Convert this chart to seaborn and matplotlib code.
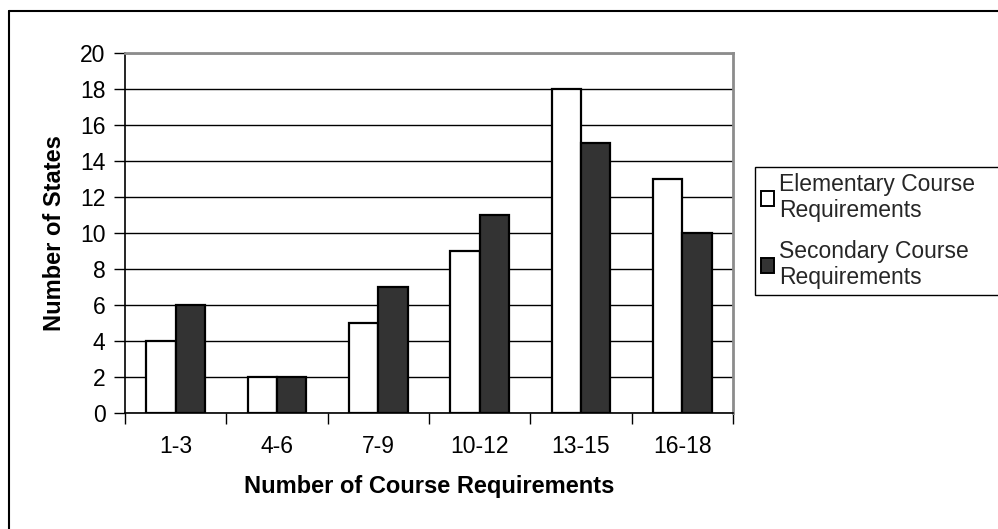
import matplotlib
matplotlib.use("Agg")
import matplotlib.pyplot as plt
from matplotlib.lines import Line2D
import seaborn as sns
import pandas as pd

categories = ["1-3", "4-6", "7-9", "10-12", "13-15", "16-18"]
elementary = [4, 2, 5, 9, 18, 13]
secondary = [6, 2, 7, 11, 15, 10]
series_names = ["Elementary Course\nRequirements", "Secondary Course\nRequirements"]
y_ticks = [0, 2, 4, 6, 8, 10, 12, 14, 16, 18, 20]

df = pd.DataFrame({
    "category": categories * 2,
    "value": elementary + secondary,
    "series": [series_names[0]] * len(categories) + [series_names[1]] * len(categories),
})

sns.set_theme(style="white")
plt.rcParams["font.family"] = ["Liberation Sans", "DejaVu Sans"]

fig = plt.figure(figsize=(9.98, 5.29), dpi=100)
ax = fig.add_axes([125 / 998, 1 - 413 / 529, 608 / 998, 360 / 529])

sns.barplot(
    data=df, x="category", y="value", hue="series", order=categories,
    hue_order=series_names, palette=["#ffffff", "#333333"], width=0.58,
    edgecolor="black", linewidth=1.6, saturation=1, errorbar=None, ax=ax,
)

ax.set_xlim(-0.5, len(categories) - 0.5)
ax.set_ylim(0, 20)
ax.set_yticks(y_ticks)
ax.yaxis.grid(True, color="black", linewidth=1.0)
ax.set_axisbelow(True)

# category labels centered, tick marks at category boundaries
ax.set_xticks(range(len(categories)))
ax.set_xticklabels(categories)
ax.set_xticks([i - 0.5 for i in range(len(categories) + 1)], minor=True)
ax.tick_params(axis="x", which="major", length=0, pad=16, labelsize=16.5, colors="black")
ax.tick_params(axis="x", which="minor", length=8, width=1.0, direction="out",
               color="black", bottom=True)
ax.tick_params(axis="y", which="major", length=8, width=1.0, direction="out",
               left=True, pad=6, labelsize=16.5, colors="black")

for side in ["left", "bottom"]:
    ax.spines[side].set_color("black")
    ax.spines[side].set_linewidth(1.2)
for side in ["top", "right"]:
    ax.spines[side].set_visible(True)
    ax.spines[side].set_color("#8c8c8c")
    ax.spines[side].set_linewidth(2.0)

ax.set_xlabel("Number of Course Requirements", fontsize=17, fontweight="bold",
              labelpad=12, color="black")
ax.set_ylabel("Number of States", fontsize=17, fontweight="bold",
              labelpad=10, color="black")

handles, labels = ax.get_legend_handles_labels()
if ax.legend_:
    ax.legend_.remove()
leg = fig.legend(
    handles, labels, loc="upper left", mode="expand",
    bbox_to_anchor=(755 / 998, 0, 300 / 998, 1 - 167 / 529),
    bbox_transform=fig.transFigure,
    fontsize=16.5, frameon=True, fancybox=False, framealpha=1,
    handlelength=0.6, handleheight=0.6, handletextpad=0.2,
    labelspacing=0.75, borderpad=0.25, borderaxespad=0,
)
leg.get_frame().set_edgecolor("black")
leg.get_frame().set_linewidth(1.0)
for h in leg.legend_handles:
    h.set_linewidth(1.4)
    h.set_edgecolor("black")

# outer chart frame
fig.add_artist(Line2D([9 / 998, 9 / 998], [0, 1 - 11 / 529], color="black",
                      linewidth=1.5, transform=fig.transFigure))
fig.add_artist(Line2D([9 / 998, 1], [1 - 11 / 529, 1 - 11 / 529], color="black",
                      linewidth=1.5, transform=fig.transFigure))

fig.savefig("out.png", dpi=100)
